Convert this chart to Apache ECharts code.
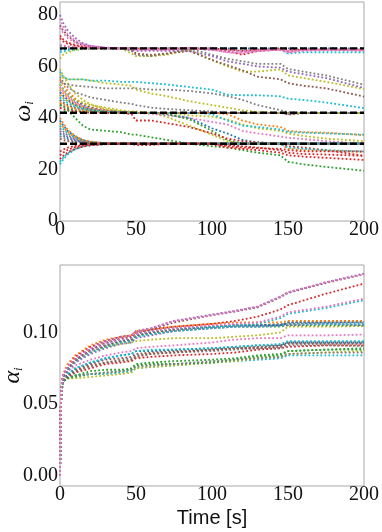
<!DOCTYPE html>
<html>
<head>
<meta charset="utf-8">
<script src="https://cdn.jsdelivr.net/npm/echarts@6/dist/echarts.min.js"></script>
<style>
html, body { margin: 0; padding: 0; background: #fff; }
#chart { width: 382px; height: 532px; }
</style>
</head>
<body>
<div id="chart"></div>
<script>
// ---- data ----
const tOmega = [0, 2, 5, 10, 15, 20, 30, 40, 47, 50, 60, 70, 85, 100, 110, 120, 130, 145, 150, 160, 175, 200];

// lines that settle on the upper level
const omegaHigh = [
  [66.5, 66.6, 66.7, 66.8, 66.9, 67, 67, 67, 67, 67, 67, 67, 67, 67, 67, 67, 67, 67, 67, 67, 67, 67],
  [65.5, 65.8, 66.2, 66.5, 66.8, 66.9, 67, 67, 67, 67, 67, 67, 67, 66.5, 66.5, 66, 66.5, 66.5, 65, 65.5, 65.5, 65.5],
  [63, 64.5, 65.5, 66.3, 66.7, 66.9, 67, 67, 65, 64, 64, 64.5, 66.5, 62.5, 60, 58, 58, 58.8, 56.5, 55.5, 54, 51.2],
  [68, 67.7, 67.5, 67.2, 67, 67, 67, 67, 66, 64.5, 64, 65, 67, 64.5, 63, 62, 61, 61, 59, 58, 56.5, 52.9],
  [72, 70.5, 69.3, 68.3, 67.7, 67.4, 67.1, 67, 67, 66.5, 66.5, 66.5, 67, 66.5, 66, 64.5, 66, 66.5, 66, 66.5, 66.5, 66.5],
  [71, 69.8, 68.8, 68, 67.5, 67.3, 67, 67, 67, 67, 67, 67, 67, 67, 66.5, 66, 66.5, 67, 66.5, 66.5, 66.5, 66.5],
  [76, 74, 72, 69.5, 68.3, 67.8, 67.2, 67, 66.5, 65, 64.5, 65, 66, 62.5, 60.5, 58.5, 56, 55, 53.5, 52.5, 51.5, 48.3],
  [80, 77, 74, 71, 69, 68, 67.2, 67, 66.5, 66, 66, 66, 66, 64, 62, 61, 60, 59.5, 58, 57, 55.5, 51.6],
  [68.5, 68.2, 67.8, 67.4, 67.2, 67.1, 67, 67, 67, 67, 67, 67, 67, 67, 66.5, 66, 66.5, 66.5, 66, 66.5, 66.5, 66.5],
  [75, 73, 71, 69.2, 68.2, 67.6, 67.1, 67, 67, 66.5, 66.5, 66.5, 67, 66.5, 65.5, 65.5, 66, 66.5, 65.5, 66.5, 66.5, 66],
  [78.5, 75.5, 72.5, 70, 68.7, 68, 67.3, 67, 67, 66.5, 66.5, 66.5, 67, 66.5, 65.5, 65, 66, 66.5, 65.5, 66, 66.5, 66.5]
];

// lines that settle on the middle level
const omegaMid = [
  [59, 56.5, 53.5, 49.5, 47, 45.3, 43.5, 42.6, 42.2, 42, 42, 42, 42, 42, 42, 42, 42, 42, 42, 42, 42, 42],
  [55, 53, 50.5, 47.5, 45.5, 44.3, 43, 42.3, 42, 42, 42, 42, 42, 42, 42, 42, 42, 42, 42, 42, 42, 42],
  [53, 51.3, 49.3, 46.7, 45, 44, 42.8, 42.3, 42, 42, 42, 42, 42, 42, 42, 42, 42, 42, 42, 42, 42, 42],
  [51, 49.6, 48, 45.8, 44.5, 43.6, 42.7, 42.2, 42, 42, 42, 42, 42, 42, 42, 42, 42, 42, 41.5, 42, 42, 42],
  [50, 48.7, 47.2, 45.2, 44, 43.3, 42.6, 42.2, 42, 42, 42, 42, 42, 42, 42, 42, 42, 42, 42, 42, 42, 42],
  [49, 47.8, 46.5, 44.8, 43.8, 43.1, 42.5, 42.1, 42, 42, 42, 42, 42, 42, 42, 42, 42, 42, 41.5, 42, 42, 42],
  [47, 46, 45, 43.9, 43.2, 42.8, 42.3, 42.1, 42, 42, 42, 42, 42, 42, 42, 42, 42, 42, 41.3, 41.8, 42, 42],
  [45.5, 44.8, 44, 43.2, 42.7, 42.4, 42.1, 42, 42, 42, 42, 42, 42, 42, 42, 42, 42, 42, 42, 42, 42, 42],
  [56, 54, 52, 50, 49, 48, 47, 46, 45.5, 45, 44, 43.5, 43, 42.5, 42, 42, 42, 42, 42, 42, 42, 42],
  [54, 53.5, 53, 52.5, 52.3, 52, 51.5, 51.5, 51.5, 51.5, 51, 51, 50.5, 49.5, 48.5, 47, 45, 43, 42.3, 42, 42, 42],
  [57, 55.5, 55, 55, 55, 54.5, 53.5, 53, 52.5, 51, 49.5, 48.5, 46.5, 45, 44, 43, 42.3, 42, 42, 42, 42, 42],
  [58, 56, 55, 55, 55, 54.5, 54.5, 54, 54, 54, 53.5, 53, 52, 51, 49, 48.8, 48.8, 48.4, 47.5, 47, 46, 43.8],
  [53, 51, 49, 47, 46, 45, 44, 43, 42.5, 42.5, 42, 40.5, 37, 33.5, 31, 30, 30, 30, 30, 30, 30, 30],
  [52, 50.5, 48.5, 46, 44.5, 43.5, 42.7, 42.2, 42, 42, 41.5, 41, 40, 38.5, 37.5, 35, 34, 32.8, 32.3, 31.8, 31, 30],
  [50, 48.7, 47, 45, 44, 43.2, 42.5, 42.2, 42, 42, 42, 41.5, 40, 36, 34, 31.5, 30.5, 30, 30, 30, 30, 30],
  [45, 44.3, 43.6, 42.8, 42.4, 42.2, 42, 42, 42, 42, 42, 41.5, 39.5, 35, 31.5, 30, 30, 30, 30, 30, 30, 30],
  [49, 47.8, 46.5, 44.8, 43.8, 43.1, 42.5, 42.1, 42, 42, 42, 42, 41, 40.5, 39.5, 37.5, 36, 35, 34, 33, 32, 31],
  [46, 45.3, 44.5, 43.5, 42.9, 42.5, 42.2, 42, 42, 42, 42, 42, 42, 42, 41.5, 39, 37.5, 36.5, 35, 34.5, 34.3, 33.3],
  [48, 47, 45.8, 44.3, 43.5, 42.9, 42.4, 42.1, 42, 42, 42, 42, 42, 41.5, 39, 37, 36.5, 35.5, 34.5, 34.3, 34, 33.5],
  [44, 43.5, 43, 42.5, 42.2, 42, 42, 42, 41.5, 39, 39, 38, 36.5, 34, 32, 31, 30.5, 30, 29, 28.5, 27.5, 25.3],
  [42, 42.5, 43, 40, 37, 35.5, 35, 34.5, 33.5, 33.5, 32.5, 31.5, 30, 29, 28.5, 27.5, 26.5, 25.5, 23, 22, 21, 19.5]
];

// lines that settle on the lower level
const omegaLow = [
  [40, 38, 35.5, 33, 31.6, 30.8, 30.2, 30, 30, 30, 30, 30, 30, 30, 30, 30, 30, 30, 30, 30, 30, 30],
  [39, 37.2, 35, 32.8, 31.4, 30.7, 30.2, 30, 30, 30, 30, 30, 30, 30, 30, 30, 30, 30, 30, 30, 30, 30],
  [37, 35.7, 34, 32.2, 31.1, 30.5, 30.1, 30, 30, 30, 30, 30, 30, 30, 30, 30, 30, 30, 30, 30, 30, 30],
  [36, 34.8, 33.3, 31.8, 30.9, 30.4, 30.1, 30, 30, 30, 30, 30, 30, 30, 30, 30, 30, 30, 30, 30, 30, 30],
  [35, 34, 32.8, 31.5, 30.7, 30.3, 30, 30, 30, 30, 30, 30, 30, 30, 30, 30, 30, 30, 30, 30, 30, 30],
  [34, 33.2, 32.2, 31.2, 30.6, 30.3, 30, 30, 30, 30, 30, 30, 30, 30, 30, 30, 30, 30, 30, 30, 30, 30],
  [33, 32.4, 31.6, 30.9, 30.5, 30.2, 30, 30, 30, 30, 30, 30, 30, 30, 30, 30, 30, 30, 30, 30, 30, 30],
  [32, 31.5, 31, 30.6, 30.3, 30.1, 30, 30, 30, 30, 30, 30, 30, 30, 30, 30, 30, 30, 30, 30, 30, 30],
  [22, 23.8, 25.8, 27.8, 28.9, 29.4, 29.8, 30, 30, 30, 30, 30, 30, 30, 30, 30, 30, 30, 30, 30, 30, 30],
  [38, 36.5, 34.5, 32.5, 31.3, 30.6, 30.1, 30, 30, 30, 30, 30, 30, 30, 30, 30, 30, 30, 28, 27.5, 27.3, 26.8],
  [23, 24.5, 26.3, 28, 29, 29.5, 29.9, 30, 30, 30, 30, 30, 30, 30, 30, 30, 30, 30, 28.5, 28, 27.5, 27],
  [24, 25.2, 26.6, 28, 28.9, 29.4, 29.8, 30, 30, 30, 30, 30, 30, 30, 29, 28.5, 28.3, 28, 27.5, 27, 27, 27],
  [27, 27.7, 28.5, 29.2, 29.6, 29.8, 30, 30, 30, 30, 30, 30, 30, 29.8, 28.5, 28, 27.5, 26.5, 25.5, 25, 24.5, 23.7],
  [25.5, 26.5, 27.6, 28.7, 29.3, 29.6, 29.9, 30, 30, 29.5, 29.5, 30, 30, 30, 29.5, 29, 28.5, 27.5, 26.5, 26, 25.8, 25.3]
];

const omegaTargets = [67, 42, 30];
const omegaTicks = [0, 20, 40, 60, 80];

const tAlpha = [0, 0.5, 1, 2, 5, 10, 20, 30, 40, 47, 50, 60, 75, 100, 115, 130, 145, 150, 175, 200];
const alphaLines = [
  [0, 0.044, 0.058, 0.066, 0.069, 0.070, 0.071, 0.071, 0.072, 0.073, 0.075, 0.076, 0.077, 0.079, 0.080, 0.081, 0.082, 0.084, 0.084, 0.084],
  [0, 0.044, 0.058, 0.066, 0.068, 0.068, 0.069, 0.070, 0.071, 0.072, 0.075, 0.076, 0.077, 0.079, 0.080, 0.082, 0.083, 0.085, 0.086, 0.087],
  [0, 0.044, 0.058, 0.066, 0.068, 0.069, 0.071, 0.072, 0.073, 0.074, 0.077, 0.078, 0.078, 0.079, 0.081, 0.083, 0.084, 0.087, 0.088, 0.089],
  [0, 0.044, 0.058, 0.066, 0.068, 0.070, 0.071, 0.072, 0.073, 0.074, 0.076, 0.077, 0.078, 0.080, 0.081, 0.082, 0.083, 0.085, 0.086, 0.086],
  [0, 0.044, 0.058, 0.066, 0.068, 0.070, 0.073, 0.074, 0.074, 0.075, 0.078, 0.079, 0.080, 0.081, 0.082, 0.084, 0.085, 0.087, 0.088, 0.088],
  [0, 0.045, 0.059, 0.067, 0.069, 0.072, 0.075, 0.078, 0.079, 0.080, 0.082, 0.083, 0.084, 0.085, 0.086, 0.088, 0.089, 0.090, 0.091, 0.091],
  [0, 0.045, 0.059, 0.067, 0.070, 0.073, 0.076, 0.079, 0.081, 0.082, 0.084, 0.085, 0.086, 0.087, 0.088, 0.089, 0.089, 0.091, 0.091, 0.0905],
  [0, 0.045, 0.059, 0.067, 0.070, 0.073, 0.077, 0.079, 0.080, 0.081, 0.083, 0.085, 0.086, 0.088, 0.089, 0.090, 0.091, 0.093, 0.093, 0.093],
  [0, 0.045, 0.059, 0.067, 0.070, 0.074, 0.078, 0.081, 0.082, 0.083, 0.085, 0.086, 0.087, 0.088, 0.089, 0.089, 0.090, 0.092, 0.092, 0.092],
  [0, 0.045, 0.059, 0.067, 0.071, 0.075, 0.079, 0.082, 0.084, 0.085, 0.087, 0.087, 0.088, 0.089, 0.090, 0.091, 0.091, 0.093, 0.093, 0.093],
  [0, 0.045, 0.060, 0.068, 0.071, 0.075, 0.079, 0.082, 0.084, 0.085, 0.087, 0.088, 0.088, 0.089, 0.090, 0.091, 0.092, 0.094, 0.094, 0.094],
  [0, 0.046, 0.060, 0.068, 0.073, 0.077, 0.081, 0.084, 0.086, 0.087, 0.089, 0.090, 0.091, 0.093, 0.095, 0.096, 0.096, 0.098, 0.098, 0.0985],
  [0, 0.046, 0.061, 0.069, 0.075, 0.081, 0.087, 0.090, 0.092, 0.093, 0.094, 0.095, 0.096, 0.096, 0.097, 0.098, 0.100, 0.104, 0.104, 0.1045],
  [0, 0.046, 0.060, 0.068, 0.074, 0.080, 0.086, 0.090, 0.093, 0.094, 0.097, 0.099, 0.101, 0.103, 0.104, 0.104, 0.104, 0.105, 0.105, 0.105],
  [0, 0.046, 0.060, 0.068, 0.073, 0.079, 0.085, 0.089, 0.092, 0.093, 0.096, 0.098, 0.101, 0.103, 0.104, 0.104, 0.105, 0.105, 0.106, 0.105],
  [0, 0.046, 0.060, 0.068, 0.074, 0.080, 0.086, 0.090, 0.093, 0.094, 0.097, 0.099, 0.101, 0.103, 0.104, 0.104, 0.105, 0.106, 0.106, 0.106],
  [0, 0.047, 0.061, 0.069, 0.074, 0.080, 0.087, 0.091, 0.094, 0.095, 0.098, 0.100, 0.102, 0.104, 0.105, 0.105, 0.106, 0.106, 0.107, 0.107],
  [0, 0.047, 0.061, 0.069, 0.075, 0.081, 0.087, 0.091, 0.094, 0.095, 0.098, 0.100, 0.102, 0.104, 0.105, 0.105, 0.105, 0.107, 0.108, 0.108],
  [0, 0.047, 0.061, 0.069, 0.075, 0.081, 0.088, 0.092, 0.095, 0.096, 0.099, 0.101, 0.103, 0.104, 0.105, 0.105, 0.105, 0.107, 0.107, 0.107],
  [0, 0.049, 0.063, 0.071, 0.078, 0.084, 0.091, 0.095, 0.097, 0.098, 0.101, 0.102, 0.104, 0.106, 0.107, 0.107, 0.107, 0.108, 0.108, 0.108],
  [0, 0.047, 0.061, 0.069, 0.075, 0.081, 0.087, 0.092, 0.095, 0.096, 0.099, 0.101, 0.103, 0.104, 0.105, 0.106, 0.110, 0.113, 0.117, 0.1225],
  [0, 0.047, 0.061, 0.069, 0.075, 0.081, 0.087, 0.092, 0.095, 0.096, 0.099, 0.101, 0.103, 0.105, 0.106, 0.107, 0.111, 0.114, 0.118, 0.1235],
  [0, 0.048, 0.062, 0.070, 0.076, 0.083, 0.090, 0.094, 0.097, 0.098, 0.100, 0.102, 0.104, 0.106, 0.108, 0.111, 0.116, 0.119, 0.127, 0.134],
  [0, 0.047, 0.062, 0.069, 0.075, 0.081, 0.088, 0.093, 0.096, 0.097, 0.100, 0.102, 0.107, 0.112, 0.1145, 0.1175, 0.1245, 0.1275, 0.1345, 0.1405],
  [0, 0.048, 0.062, 0.070, 0.076, 0.082, 0.089, 0.094, 0.097, 0.098, 0.101, 0.103, 0.108, 0.1125, 0.115, 0.118, 0.125, 0.128, 0.135, 0.141],
  [0, 0.048, 0.063, 0.070, 0.076, 0.082, 0.089, 0.093, 0.096, 0.098, 0.100, 0.103, 0.108, 0.112, 0.115, 0.118, 0.125, 0.128, 0.135, 0.1405]
];
const alphaTicks = [0, 0.05, 0.10];

// ---- styling ----
const tab10 = {
  blue: '#1f77b4', orange: '#ff7f0e', green: '#2ca02c', red: '#d62728', purple: '#9467bd',
  brown: '#8c564b', pink: '#e377c2', gray: '#7f7f7f', olive: '#bcbd22', cyan: '#17becf'
};
const highColors = ['blue', 'cyan', 'olive', 'gray', 'red', 'red', 'brown', 'purple', 'pink', 'pink', 'pink'];
const midColors = ['olive', 'orange', 'blue', 'orange', 'pink', 'purple', 'brown', 'gray',
  'gray', 'gray', 'olive', 'cyan', 'olive', 'pink', 'blue', 'green', 'olive', 'orange', 'cyan', 'red', 'green'];
const lowColors = ['orange', 'blue', 'cyan', 'gray', 'purple', 'blue', 'gray', 'brown', 'cyan',
  'orange', 'cyan', 'red', 'red', 'red'];
const alphaColors = ['cyan', 'olive', 'green', 'gray', 'green', 'red', 'gray', 'brown', 'brown', 'blue', 'cyan',
  'pink', 'olive', 'green', 'purple', 'cyan', 'gray', 'brown', 'blue', 'orange', 'cyan', 'pink', 'red',
  'brown', 'purple', 'pink'];

const serif = "'Liberation Serif', 'DejaVu Serif', serif";
const ink = '#111';

function dotted(ts, vals, color, idx) {
  return {
    type: 'line',
    xAxisIndex: idx,
    yAxisIndex: idx,
    data: ts.map((t, i) => [t, vals[i]]),
    symbol: 'none',
    silent: true,
    lineStyle: { color: color, width: 1.8, type: [1.8, 2.2] }
  };
}

const series = [];
omegaHigh.forEach((v, i) => series.push(dotted(tOmega, v, tab10[highColors[i]], 0)));
omegaMid.forEach((v, i) => series.push(dotted(tOmega, v, tab10[midColors[i]], 0)));
omegaLow.forEach((v, i) => series.push(dotted(tOmega, v, tab10[lowColors[i]], 0)));
omegaTargets.forEach(level => {
  series.push({
    type: 'line',
    xAxisIndex: 0,
    yAxisIndex: 0,
    data: [[tOmega[0], level], [tOmega[tOmega.length - 1], level]],
    symbol: 'none',
    silent: true,
    z: 5,
    lineStyle: { color: '#000', width: 2.4, type: [7, 3] }
  });
});
alphaLines.forEach((v, i) => series.push(dotted(tAlpha, v, tab10[alphaColors[i]], 1)));

function xAxisCfg(idx, name) {
  return {
    type: 'value',
    gridIndex: idx,
    min: 0,
    max: 200,
    interval: 50,
    name: name,
    nameLocation: 'middle',
    nameGap: 22,
    nameMoveOverlap: false,
    nameTextStyle: { fontFamily: "'Liberation Sans', 'DejaVu Sans', sans-serif", fontSize: 20, color: ink },
    axisLine: { show: false },
    axisTick: { show: false },
    splitLine: { show: false },
    axisLabel: { fontFamily: serif, fontSize: 20, color: ink, margin: -1 }
  };
}

function nameRich() {
  return {
    a: { fontFamily: serif, fontStyle: 'italic', fontSize: 24, color: ink },
    b: { fontFamily: serif, fontStyle: 'italic', fontSize: 13, color: ink, verticalAlign: 'bottom', padding: [12, 0, 0, 0] }
  };
}

const chart = echarts.init(document.getElementById('chart'), null, { renderer: 'canvas' });
chart.setOption({
  animation: false,
  backgroundColor: '#fff',
  grid: [
    { left: 60, right: 18, top: 2, height: 219, show: true, borderColor: '#a8a8a8', borderWidth: 1, outerBoundsMode: 'none', containLabel: false },
    { left: 60, right: 18, top: 265, height: 221, show: true, borderColor: '#a8a8a8', borderWidth: 1, outerBoundsMode: 'none', containLabel: false }
  ],
  xAxis: [xAxisCfg(0, ''), xAxisCfg(1, 'Time [s]')],
  yAxis: [
    {
      type: 'value',
      gridIndex: 0,
      min: 0,
      max: 85,
      name: '{a|ω}{b|i}',
      nameLocation: 'middle',
      nameGap: 24,
      nameMoveOverlap: false,
      nameTextStyle: { rich: nameRich() },
      axisLine: { show: false },
      axisTick: { show: false },
      splitLine: { show: false },
      axisLabel: { customValues: omegaTicks, fontFamily: serif, fontSize: 20, color: ink, margin: 2 }
    },
    {
      type: 'value',
      gridIndex: 1,
      min: -0.007,
      max: 0.147,
      name: '{a|α}{b|i}',
      nameLocation: 'middle',
      nameGap: 35,
      nameMoveOverlap: false,
      nameTextStyle: { rich: nameRich() },
      axisLine: { show: false },
      axisTick: { show: false },
      splitLine: { show: false },
      axisLabel: {
        customValues: alphaTicks,
        fontFamily: serif, fontSize: 20, color: ink, margin: 2,
        formatter: v => v.toFixed(2)
      }
    }
  ],
  series: series
});
</script>
</body>
</html>
